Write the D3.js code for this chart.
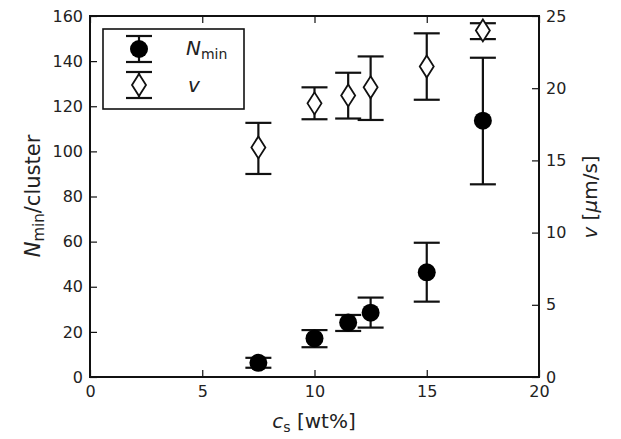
<!DOCTYPE html>
<html>
<head>
<meta charset="utf-8">
<script src="https://cdn.jsdelivr.net/npm/d3@7"></script>
<style>
  html, body { margin: 0; padding: 0; background: #fff; }
  svg text { font-family: "DejaVu Sans", "Liberation Sans", sans-serif; fill: #222; }
</style>
</head>
<body>
<svg id="chart" width="621" height="439"></svg>
<script>
// Salt concentration (wt%)
const cs = [7.5, 10, 11.5, 12.5, 15, 17.5];
// Minimum cluster size with lower / upper error bounds
const nMin   = [6.3, 17.1, 24.1, 28.5, 46.4, 113.6];
const nLow   = [4.1, 13.2, 20.4, 21.9, 33.4, 85.4];
const nHigh  = [8.5, 20.8, 27.5, 35.2, 59.5, 141.5];
// Velocity (µm/s) with lower / upper error bounds
const vel    = [15.9, 18.95, 19.5, 20.06, 21.5, 24.0];
const vLow   = [14.06, 17.85, 17.9, 17.8, 19.2, 23.4];
const vHigh  = [17.6, 20.06, 21.07, 22.2, 23.8, 24.5];

const xTicks = [0, 5, 10, 15, 20];
const yLeftTicks = [0, 20, 40, 60, 80, 100, 120, 140, 160];
const yRightTicks = [0, 5, 10, 15, 20, 25];

const svg = d3.select("#chart");
const L = 90, R = 539, T = 16, B = 377;

const x = d3.scaleLinear().domain([0, 20]).range([L, R]);
const yL = d3.scaleLinear().domain([0, 160]).range([B, T]);
const yR = d3.scaleLinear().domain([0, 25]).range([B, T]);

const tickLen = 7, stroke = "#111";

// Axes with inward ticks on all four sides
const axes = [
  { gen: d3.axisBottom(x).tickValues(xTicks).tickSize(-tickLen).tickPadding(9).tickFormat(d3.format("d")), tr: `translate(0,${B})` },
  { gen: d3.axisTop(x).tickValues(xTicks).tickSize(-tickLen).tickFormat(""), tr: `translate(0,${T})` },
  { gen: d3.axisLeft(yL).tickValues(yLeftTicks).tickSize(-tickLen).tickPadding(7).tickFormat(d3.format("d")), tr: `translate(${L},0)` },
  { gen: d3.axisRight(yR).tickValues(yRightTicks).tickSize(-tickLen).tickPadding(7).tickFormat(d3.format("d")), tr: `translate(${R},0)` }
];
axes.forEach(a => {
  const g = svg.append("g").attr("transform", a.tr).call(a.gen);
  g.select(".domain").remove();
  g.selectAll(".tick line").attr("stroke", stroke).attr("stroke-width", 1.2);
  g.selectAll(".tick text").style("font-size", "16px").attr("fill", "#222");
});

// Plot frame
svg.append("rect").attr("x", L).attr("y", T).attr("width", R - L).attr("height", B - T)
  .attr("fill", "none").attr("stroke", stroke).attr("stroke-width", 2);

const capW = 13;
function errorBars(g, yScale, lo, hi) {
  g.selectAll(null).data(cs).enter().append("line")
    .attr("x1", d => x(d)).attr("x2", d => x(d))
    .attr("y1", (d, i) => yScale(lo[i])).attr("y2", (d, i) => yScale(hi[i]))
    .attr("stroke", stroke).attr("stroke-width", 2.2);
  [lo, hi].forEach(arr => {
    g.selectAll(null).data(cs).enter().append("line")
      .attr("x1", d => x(d) - capW).attr("x2", d => x(d) + capW)
      .attr("y1", (d, i) => yScale(arr[i])).attr("y2", (d, i) => yScale(arr[i]))
      .attr("stroke", stroke).attr("stroke-width", 2.2);
  });
}

const diamond = (cx, cy) => `M${cx},${cy - 11}L${cx + 7},${cy}L${cx},${cy + 11}L${cx - 7},${cy}Z`;

// N_min series (left axis)
const gN = svg.append("g");
errorBars(gN, yL, nLow, nHigh);
gN.selectAll("circle").data(cs).enter().append("circle")
  .attr("cx", d => x(d)).attr("cy", (d, i) => yL(nMin[i])).attr("r", 9)
  .attr("fill", "#000");

// v series (right axis)
const gV = svg.append("g");
errorBars(gV, yR, vLow, vHigh);
gV.selectAll("path").data(cs).enter().append("path")
  .attr("d", (d, i) => diamond(x(d), yR(vel[i])))
  .attr("fill", "#fff").attr("stroke", stroke).attr("stroke-width", 1.8);

// Legend
const lg = svg.append("g");
lg.append("rect").attr("x", 103).attr("y", 29).attr("width", 141).attr("height", 80)
  .attr("fill", "#fff").attr("stroke", stroke).attr("stroke-width", 1.6);
const lx = 139;
[[36, 62], [72, 98]].forEach(([top, bot]) => {
  lg.append("line").attr("x1", lx).attr("x2", lx).attr("y1", top).attr("y2", bot).attr("stroke", stroke).attr("stroke-width", 2.2);
  [top, bot].forEach(yy => lg.append("line").attr("x1", lx - capW).attr("x2", lx + capW).attr("y1", yy).attr("y2", yy).attr("stroke", stroke).attr("stroke-width", 2.2));
});
lg.append("circle").attr("cx", lx).attr("cy", 49).attr("r", 9).attr("fill", "#000");
lg.append("path").attr("d", diamond(lx, 85)).attr("fill", "#fff").attr("stroke", stroke).attr("stroke-width", 1.8);

const t1 = lg.append("text").attr("x", 186).attr("y", 55).style("font-size", "20px");
t1.append("tspan").text("N").style("font-style", "italic");
t1.append("tspan").text("min").attr("dy", 4).style("font-size", "14px");
lg.append("text").attr("x", 188).attr("y", 92).style("font-size", "20px").style("font-style", "italic").text("v");

// Axis titles
const xt = svg.append("text").attr("x", 314).attr("y", 428).attr("text-anchor", "middle").style("font-size", "20px");
xt.append("tspan").text("c").style("font-style", "italic");
xt.append("tspan").text("s").attr("dy", 4).style("font-size", "14px");
xt.append("tspan").text("\u00a0[wt%]").attr("dy", -4);

const ylt = svg.append("text").attr("transform", "translate(40,196) rotate(-90)").attr("text-anchor", "middle").style("font-size", "21px");
ylt.append("tspan").text("N").style("font-style", "italic");
ylt.append("tspan").text("min").attr("dy", 4).style("font-size", "15px");
ylt.append("tspan").text("/cluster").attr("dy", -4);

const yrt = svg.append("text").attr("transform", "translate(597,197) rotate(-90)").attr("text-anchor", "middle").style("font-size", "20px");
yrt.append("tspan").text("v").style("font-style", "italic");
yrt.append("tspan").text("\u00a0[");
yrt.append("tspan").text("μ").style("font-style", "italic");
yrt.append("tspan").text("m/s]");
</script>
</body>
</html>
